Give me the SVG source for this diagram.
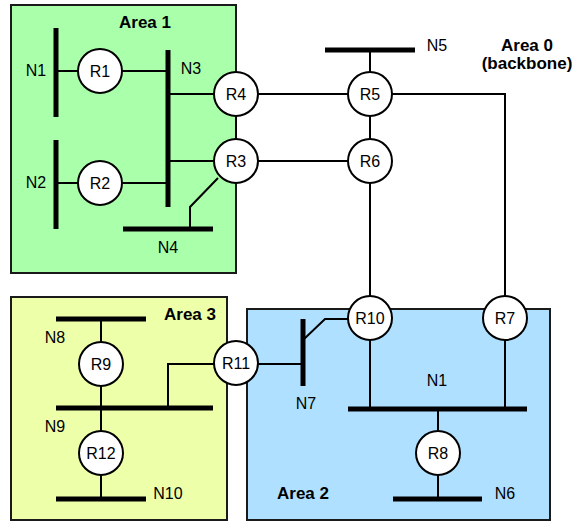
<svg xmlns="http://www.w3.org/2000/svg" width="576" height="521" viewBox="0 0 576 521">
<style>
.area{stroke:#1a1a1a;stroke-width:2}
.bar{stroke:#000;stroke-width:5;fill:none}
.ln{stroke:#000;stroke-width:2;fill:none}
.rt{fill:#fff;stroke:#000;stroke-width:2}
text{font-family:"Liberation Sans",Arial,sans-serif;font-size:16px;fill:#000}
.c{text-anchor:middle}
.b{font-weight:bold;font-size:17px}
</style>
<rect width="576" height="521" fill="#fff"/>
<g id="area1"><rect class="area" x="11" y="5" width="225" height="268" fill="#aaffaa"/><text class="c b" x="145" y="28">Area 1</text></g>
<g id="area3"><rect class="area" x="11" y="297" width="216" height="223" fill="#eeffaa"/><text class="c b" x="190" y="320">Area 3</text></g>
<g id="area2"><rect class="area" x="247" y="309" width="303" height="211" fill="#b0e0ff"/><text class="c b" x="303" y="499">Area 2</text></g>
<g id="area0"><text class="c b" x="527" y="51">Area 0</text><text class="c b" x="527" y="69">(backbone)</text></g>
<g id="connectors">
<path class="ln" d="M56 71H167M56 183H167M167 94H236M167 161H236M236 94V161M190 229V207L218 178"/>
<path class="ln" d="M236 94H370M236 161H370M370 50V161M370 161V318M370 94H505V318"/>
<path class="ln" d="M101 319V453M101 453V499M168 408V364H237M237 364H303M303 340L325 319H370M370 318V409M505 318V409M438 409V499"/>
</g>
<g id="N1"><line class="bar" x1="56" y1="28" x2="56" y2="117"/><text class="c" x="36" y="76">N1</text></g>
<g id="N2"><line class="bar" x1="56" y1="140" x2="56" y2="229"/><text class="c" x="36" y="188">N2</text></g>
<g id="N3"><line class="bar" x1="168" y1="50" x2="168" y2="207"/><text class="c" x="191" y="74">N3</text></g>
<g id="N4"><line class="bar" x1="123" y1="229" x2="213" y2="229"/><text class="c" x="168" y="253">N4</text></g>
<g id="N5"><line class="bar" x1="325" y1="50" x2="415" y2="50"/><text class="c" x="437" y="51">N5</text></g>
<g id="N8"><line class="bar" x1="56" y1="319" x2="146" y2="319"/><text class="c" x="55" y="343">N8</text></g>
<g id="N9"><line class="bar" x1="56" y1="408" x2="213" y2="408"/><text class="c" x="55" y="432">N9</text></g>
<g id="N10"><line class="bar" x1="56" y1="499" x2="146" y2="499"/><text class="c" x="168" y="499">N10</text></g>
<g id="N7"><line class="bar" x1="303" y1="319" x2="303" y2="386"/><text class="c" x="306" y="409">N7</text></g>
<g id="N1b"><line class="bar" x1="348" y1="409" x2="527" y2="409"/><text class="c" x="437" y="386">N1</text></g>
<g id="N6"><line class="bar" x1="393" y1="499" x2="482" y2="499"/><text class="c" x="505" y="499">N6</text></g>
<g id="R1"><circle class="rt" cx="100" cy="71" r="22"/><text class="c" x="100" y="77">R1</text></g>
<g id="R2"><circle class="rt" cx="100" cy="183" r="22"/><text class="c" x="100" y="189">R2</text></g>
<g id="R4"><circle class="rt" cx="236" cy="94" r="22"/><text class="c" x="236" y="100">R4</text></g>
<g id="R3"><circle class="rt" cx="236" cy="161" r="22"/><text class="c" x="236" y="167">R3</text></g>
<g id="R5"><circle class="rt" cx="370" cy="94" r="22"/><text class="c" x="370" y="100">R5</text></g>
<g id="R6"><circle class="rt" cx="370" cy="161" r="22"/><text class="c" x="370" y="167">R6</text></g>
<g id="R10"><circle class="rt" cx="370" cy="318" r="22"/><text class="c" x="370" y="324">R10</text></g>
<g id="R7"><circle class="rt" cx="505" cy="318" r="22"/><text class="c" x="505" y="324">R7</text></g>
<g id="R11"><circle class="rt" cx="236" cy="363" r="22"/><text class="c" x="236" y="369">R11</text></g>
<g id="R9"><circle class="rt" cx="101" cy="364" r="22"/><text class="c" x="101" y="370">R9</text></g>
<g id="R12"><circle class="rt" cx="101" cy="453" r="22"/><text class="c" x="101" y="459">R12</text></g>
<g id="R8"><circle class="rt" cx="438" cy="453" r="22"/><text class="c" x="438" y="459">R8</text></g>
</svg>
